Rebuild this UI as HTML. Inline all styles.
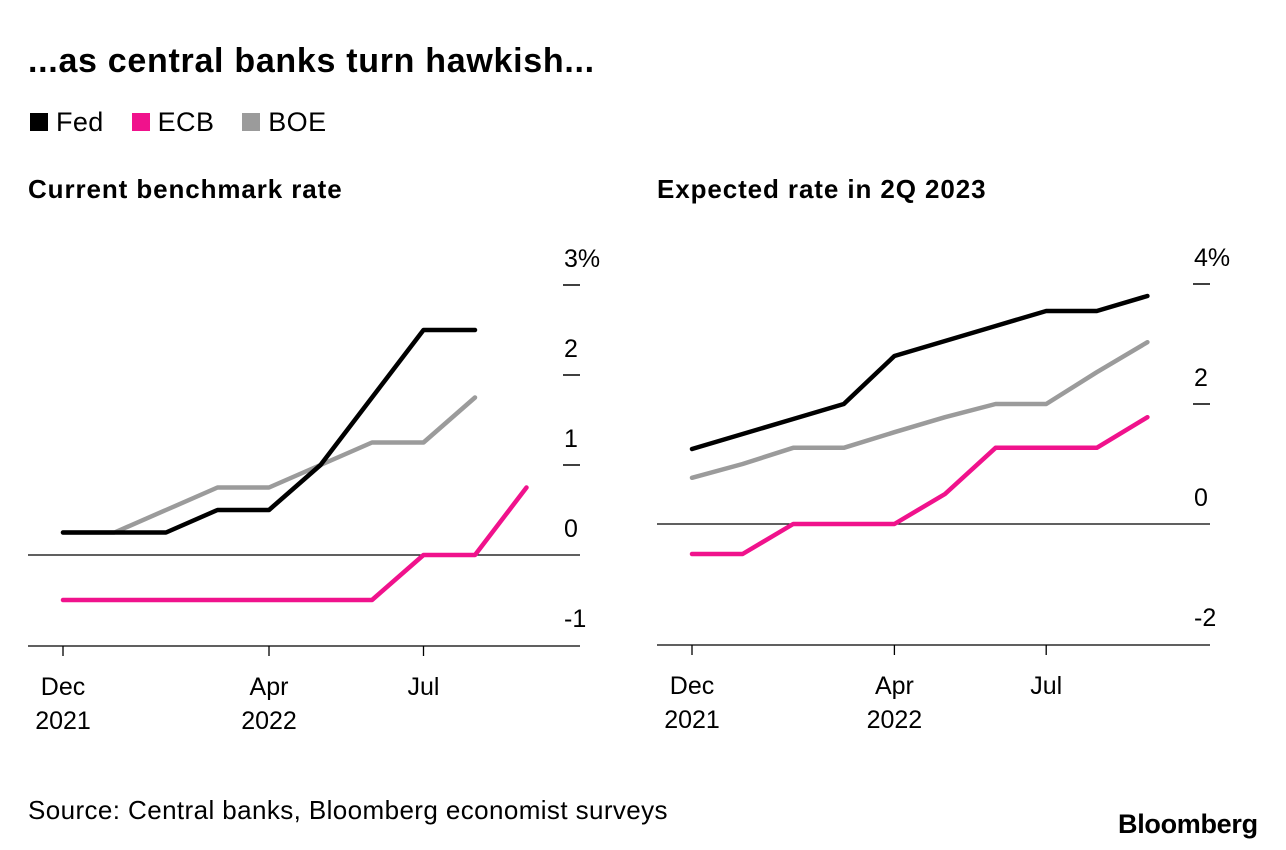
<!DOCTYPE html>
<html><head><meta charset="utf-8"><style>
body{margin:0;background:#fff;font-family:"Liberation Sans",sans-serif;}
#wrap{position:relative;width:1286px;height:850px;overflow:hidden;}
.t{position:absolute;white-space:nowrap;color:#000;}
</style></head><body>
<div id="wrap">
<div class="t" style="left:28px;top:42px;font-size:34px;font-weight:bold;letter-spacing:0.7px">...as central banks turn hawkish...</div>
<div class="t" style="left:30px;top:107px;font-size:27px;letter-spacing:0.4px">
<span><span style="display:inline-block;width:18px;height:18px;background:#000;margin-right:8px"></span>Fed</span>
<span style="margin-left:20px"><span style="display:inline-block;width:18px;height:18px;background:#f0128c;margin-right:8px"></span>ECB</span>
<span style="margin-left:20px"><span style="display:inline-block;width:18px;height:18px;background:#9b9b9b;margin-right:8px"></span>BOE</span>
</div>
<div class="t" style="left:28px;top:174px;font-size:26px;font-weight:bold;letter-spacing:0.9px">Current benchmark rate</div>
<div class="t" style="left:657px;top:174px;font-size:26px;font-weight:bold;letter-spacing:0.9px">Expected rate in 2Q 2023</div>
<svg id="svg" width="1286" height="850" style="position:absolute;left:0;top:0"></svg>
<div class="t" style="left:28px;top:795px;font-size:26px;letter-spacing:0.4px">Source: Central banks, Bloomberg economist surveys</div>
<div class="t" style="left:1118px;top:809px;font-size:27px;font-weight:bold;letter-spacing:-0.3px">Bloomberg</div>
</div>
<script>
const months=["Dec","Jan","Feb","Mar","Apr","May","Jun","Jul","Aug","Sep"];
const leftFed=[0.25,0.25,0.25,0.5,0.5,1.0,1.75,2.5,2.5];
const leftECB=[-0.5,-0.5,-0.5,-0.5,-0.5,-0.5,-0.5,0,0,0.75];
const leftBOE=[0.25,0.25,0.5,0.75,0.75,1.0,1.25,1.25,1.75];
const leftTicks=[3,2,1,0,-1];
const leftTickLabels=["3%","2","1","0","-1"];
const rightFed=[1.25,1.5,1.75,2.0,2.8,3.05,3.3,3.55,3.55,3.8];
const rightECB=[-0.5,-0.5,0,0,0,0.5,1.27,1.27,1.27,1.78];
const rightBOE=[0.77,1.0,1.27,1.27,1.53,1.78,2.0,2.0,2.53,3.03];
const rightTicks=[4,2,0,-2];
const rightTickLabels=["4%","2","0","-2"];
const xLabels=[[0,"Dec","2021"],[4,"Apr","2022"],[7,"Jul",""]];
const NS="http://www.w3.org/2000/svg";
const svg=document.getElementById('svg');
function el(t,a){const e=document.createElementNS(NS,t);for(const k in a)e.setAttribute(k,a[k]);svg.appendChild(e);return e;}
function panel(p,name){
  const x=i=>p.x0+i*p.dx, y=v=>p.y0-v*p.dy;
  let e=el('line',{x1:p.l,x2:p.r,y1:y(0),y2:y(0),stroke:'#000','stroke-width':1.3});
  
  e=el('line',{x1:p.l,x2:p.r,y1:p.bottom,y2:p.bottom,stroke:'#000','stroke-width':1.3});
  
  p.ticks.forEach((v,i)=>{
    if(v!==0&&y(v)<p.bottom-2){const l=el('line',{x1:p.r-17,x2:p.r,y1:y(v),y2:y(v),stroke:'#000','stroke-width':1.5});
    }
    const t=el('text',{x:p.r-16,y:y(v)-18,'font-size':25,'font-family':'Liberation Sans, sans-serif'});
    t.textContent=p.tickLabels[i];
    
  });
  xLabels.forEach(([i,m,yr])=>{
    const l=el('line',{x1:x(i),x2:x(i),y1:p.bottom,y2:p.bottom+10,stroke:'#000','stroke-width':1.3});
    
    let t=el('text',{x:x(i),y:p.bottom+49,'font-size':25,'text-anchor':'middle','font-family':'Liberation Sans, sans-serif'});
    t.textContent=m;
    if(yr){t=el('text',{x:x(i),y:p.bottom+83,'font-size':25,'text-anchor':'middle','font-family':'Liberation Sans, sans-serif'});
    t.textContent=yr;}
  });
  p.series.forEach(([vals,col,sn])=>{
    const pl=el('polyline',{points:vals.map((v,i)=>x(i)+','+y(v)).join(' '),fill:'none',stroke:col,'stroke-width':4.5,'stroke-linecap':'round','stroke-linejoin':'round'});
    
  });
}
panel({x0:63,dx:51.5,y0:555,dy:90,l:28,r:580,bottom:646,ticks:leftTicks,tickLabels:leftTickLabels,
  series:[[leftBOE,'#9b9b9b','boe'],[leftECB,'#f0128c','ecb'],[leftFed,'#000','fed']]},'left');
panel({x0:692,dx:50.6,y0:524,dy:60,l:657,r:1210,bottom:645,ticks:rightTicks,tickLabels:rightTickLabels,
  series:[[rightBOE,'#9b9b9b','boe'],[rightECB,'#f0128c','ecb'],[rightFed,'#000','fed']]},'right');
</script>
</body></html>
